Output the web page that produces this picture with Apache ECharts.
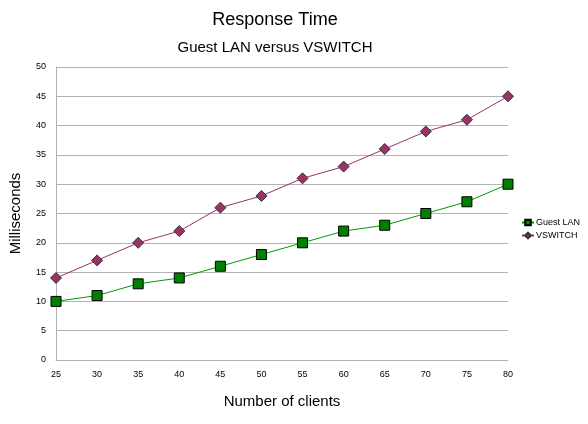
<!DOCTYPE html><html><head><meta charset="utf-8">
<script src="https://cdn.jsdelivr.net/npm/echarts@6/dist/echarts.min.js"></script>
<style>body{margin:0;background:#fff}#c{width:588px;height:424px}</style></head><body><div id="c"></div>
<script>
const categories=['25','30','35','40','45','50','55','60','65','70','75','80'];
const guestLan=[10,11,13,14,16,18,20,22,23,25,27,30];
const vswitch=[14,17,20,22,26,28,31,33,36,39,41,45];
const F='Liberation Sans';
const ch=echarts.init(document.getElementById('c'));
ch.setOption({
animation:false,
title:[{text:'Response Time',left:270,top:6,textAlign:'center',textStyle:{fontFamily:F,fontSize:18,fontWeight:'normal',color:'#000'}},
{text:'Guest LAN versus VSWITCH',left:270,top:35,textAlign:'center',textStyle:{fontFamily:F,fontSize:15,fontWeight:'normal',color:'#000'}}],
legend:{orient:'vertical',left:516,top:213,itemWidth:12,itemHeight:7,itemGap:4,textStyle:{fontFamily:F,fontSize:9,color:'#000',padding:[0,0,0,-3]},data:['Guest LAN','VSWITCH']},
grid:{left:55,right:80,top:67,bottom:64},
xAxis:{type:'category',data:categories,boundaryGap:false,name:'Number of clients',nameLocation:'middle',nameGap:34,nameTextStyle:{fontFamily:F,fontSize:15,color:'#000'},
axisLine:{lineStyle:{color:'#b3b3b3'}},axisTick:{show:false},axisLabel:{fontFamily:F,fontSize:9,color:'#000',margin:10},splitLine:{show:false}},
yAxis:{type:'value',min:0,max:50,interval:5,name:'Milliseconds',nameLocation:'middle',nameGap:33,nameTextStyle:{fontFamily:F,fontSize:15,color:'#000'},
axisLine:{show:true,lineStyle:{color:'#b3b3b3'}},axisTick:{show:false},axisLabel:{fontFamily:F,fontSize:9,color:'#000',margin:10},splitLine:{lineStyle:{color:'#b3b3b3'}}},
series:[
{name:'Guest LAN',type:'line',data:guestLan,symbol:'rect',symbolSize:10,lineStyle:{color:'#009900',width:1},itemStyle:{color:'#008000',borderColor:'#000',borderWidth:1}},
{name:'VSWITCH',type:'line',data:vswitch,symbol:'diamond',symbolSize:11,lineStyle:{color:'#993366',width:1},itemStyle:{color:'#993366',borderColor:'#333',borderWidth:1}}
]});
</script></body></html>
